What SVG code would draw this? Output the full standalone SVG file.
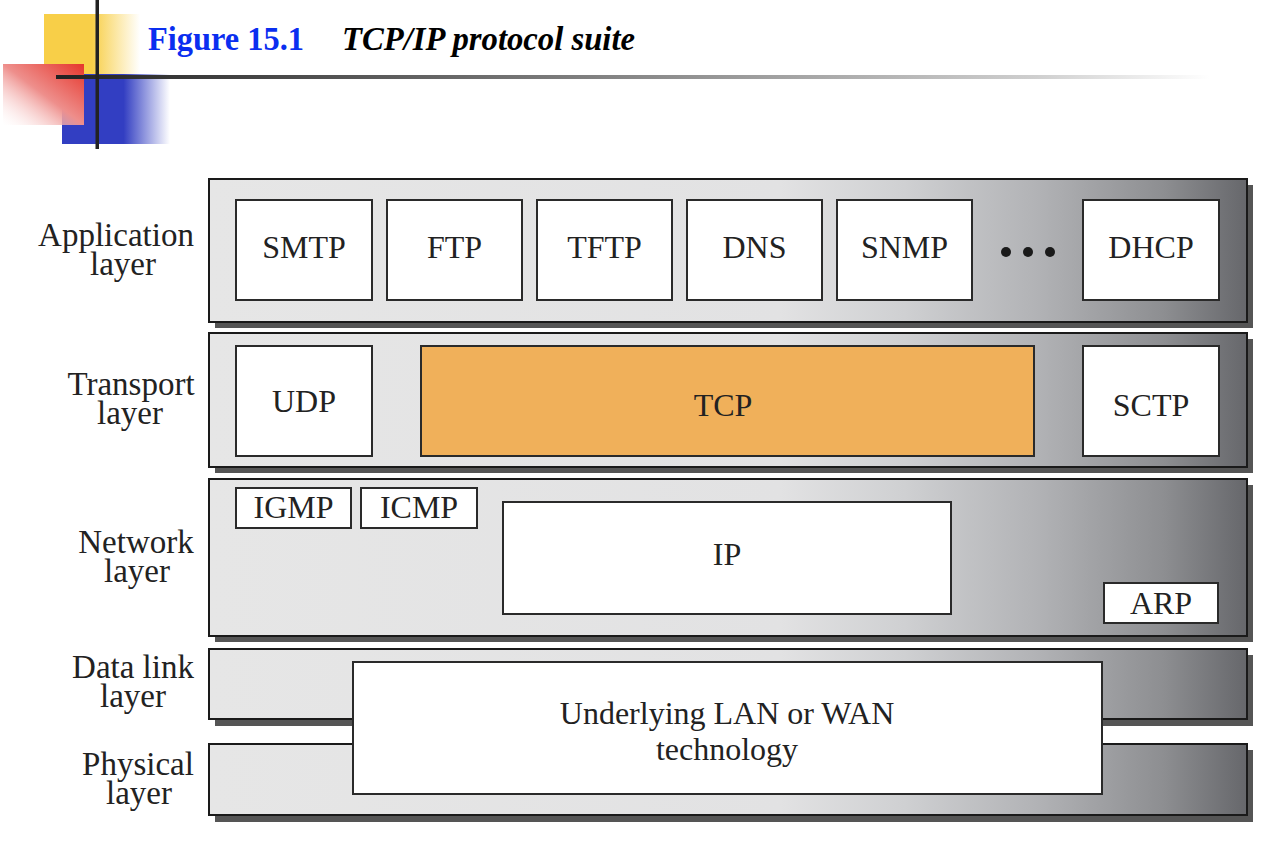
<svg xmlns="http://www.w3.org/2000/svg" width="1282" height="842" viewBox="0 0 1282 842">
<style>
.lbl{font-family:"Liberation Serif","Times New Roman",serif;font-size:33px;fill:#222;text-anchor:middle}
.t{font-family:"Liberation Serif","Times New Roman",serif;font-size:32px;fill:#222;text-anchor:middle}
.layer{fill:url(#lg);stroke:#1a1a1a;stroke-width:2}
.shadow{fill:#555}
.box{fill:#fff;stroke:#2a2a2a;stroke-width:2}
</style>
<defs>
<linearGradient id="lg" x1="0" y1="0" x2="1" y2="0">
<stop offset="0" stop-color="#e6e6e6"/>
<stop offset="0.55" stop-color="#e2e2e3"/>
<stop offset="0.67" stop-color="#cfd0d2"/>
<stop offset="0.8" stop-color="#b1b2b5"/>
<stop offset="0.92" stop-color="#8d8e91"/>
<stop offset="1" stop-color="#66676b"/>
</linearGradient>
<linearGradient id="yel" x1="44" y1="0" x2="140" y2="0" gradientUnits="userSpaceOnUse">
<stop offset="0" stop-color="#f8cf48"/>
<stop offset="0.5" stop-color="#f8cf48"/>
<stop offset="1" stop-color="#f8cf48" stop-opacity="0"/>
</linearGradient>
<linearGradient id="blu" x1="62" y1="0" x2="170" y2="0" gradientUnits="userSpaceOnUse">
<stop offset="0" stop-color="#323ec2"/>
<stop offset="0.57" stop-color="#323ec2"/>
<stop offset="1" stop-color="#323ec2" stop-opacity="0"/>
</linearGradient>
<linearGradient id="red" x1="1" y1="0" x2="0" y2="1">
<stop offset="0" stop-color="#e6352b"/>
<stop offset="0.5" stop-color="#ee8f8c"/>
<stop offset="1" stop-color="#ffffff" stop-opacity="0.2"/>
</linearGradient>
<linearGradient id="hl" x1="56" y1="0" x2="1210" y2="0" gradientUnits="userSpaceOnUse">
<stop offset="0" stop-color="#222"/>
<stop offset="0.5" stop-color="#888"/>
<stop offset="0.85" stop-color="#cfcfcf"/>
<stop offset="1" stop-color="#fff"/>
</linearGradient>
</defs>
<rect width="1282" height="842" fill="#fff"/>
<g id="header">
<rect x="44" y="14" width="96" height="61" fill="url(#yel)"/>
<rect x="62" y="74" width="108" height="70" fill="url(#blu)"/>
<rect x="3" y="64" width="81" height="61" fill="url(#red)"/>
<rect x="56" y="75" width="1154" height="4" fill="url(#hl)"/>
<rect x="95.5" y="0" width="3.5" height="149" fill="#222"/>
<text x="148" y="50" font-family="Liberation Serif,serif" font-weight="bold" font-size="33" fill="#0a2ef0" textLength="156" lengthAdjust="spacingAndGlyphs">Figure 15.1</text>
<text x="342" y="50" font-family="Liberation Serif,serif" font-weight="bold" font-style="italic" font-size="33" fill="#000" textLength="293" lengthAdjust="spacingAndGlyphs">TCP/IP protocol suite</text>
</g>
<g id="labels">
<text class="lbl"><tspan x="116" y="246">Application</tspan><tspan x="123" y="275">layer</tspan></text>
<text class="lbl"><tspan x="131" y="395">Transport</tspan><tspan x="130" y="424">layer</tspan></text>
<text class="lbl"><tspan x="136" y="553">Network</tspan><tspan x="137" y="582">layer</tspan></text>
<text class="lbl"><tspan x="133" y="678">Data link</tspan><tspan x="133" y="707">layer</tspan></text>
<text class="lbl"><tspan x="138" y="775">Physical</tspan><tspan x="139" y="804">layer</tspan></text>
</g>
<g id="application-layer">
<rect class="shadow" x="215" y="185" width="1038" height="143"/>
<rect class="layer" x="209" y="179" width="1038" height="143"/>
</g>
<g id="transport-layer">
<rect class="shadow" x="215" y="339" width="1038" height="134"/>
<rect class="layer" x="209" y="333" width="1038" height="134"/>
</g>
<g id="network-layer">
<rect class="shadow" x="215" y="485" width="1038" height="157"/>
<rect class="layer" x="209" y="479" width="1038" height="157"/>
</g>
<g id="datalink-layer">
<rect class="shadow" x="215" y="655" width="1038" height="71"/>
<rect class="layer" x="209" y="649" width="1038" height="70"/>
</g>
<g id="physical-layer">
<rect class="shadow" x="215" y="750" width="1038" height="72"/>
<rect class="layer" x="209" y="744" width="1038" height="71"/>
</g>
<g id="smtp"><rect class="box" x="236" y="200" width="136" height="100"/><text class="t" x="304" y="258">SMTP</text></g>
<g id="ftp"><rect class="box" x="387" y="200" width="135" height="100"/><text class="t" x="454.5" y="258">FTP</text></g>
<g id="tftp"><rect class="box" x="537" y="200" width="135" height="100"/><text class="t" x="604.5" y="258">TFTP</text></g>
<g id="dns"><rect class="box" x="687" y="200" width="135" height="100"/><text class="t" x="754.5" y="258">DNS</text></g>
<g id="snmp"><rect class="box" x="837" y="200" width="135" height="100"/><text class="t" x="904.5" y="258">SNMP</text></g>
<g id="dots" fill="#1a1a1a"><circle cx="1006" cy="252" r="5"/><circle cx="1028" cy="252" r="5"/><circle cx="1050" cy="252" r="5"/></g>
<g id="dhcp"><rect class="box" x="1083" y="200" width="136" height="100"/><text class="t" x="1151" y="258">DHCP</text></g>
<g id="udp"><rect class="box" x="236" y="346" width="136" height="110"/><text class="t" x="304" y="412">UDP</text></g>
<g id="tcp"><rect x="421" y="346" width="613" height="110" fill="#f0b05a" stroke="#2a2a2a" stroke-width="2"/><text class="t" x="723" y="416">TCP</text></g>
<g id="sctp"><rect class="box" x="1083" y="346" width="136" height="110"/><text class="t" x="1151" y="416">SCTP</text></g>
<g id="igmp"><rect class="box" x="236" y="488" width="115" height="40"/><text class="t" x="293.5" y="518">IGMP</text></g>
<g id="icmp"><rect class="box" x="361" y="488" width="116" height="40"/><text class="t" x="419" y="518">ICMP</text></g>
<g id="ip"><rect class="box" x="503" y="502" width="448" height="112"/><text class="t" x="727" y="565">IP</text></g>
<g id="arp"><rect class="box" x="1104" y="583" width="114" height="40"/><text class="t" x="1161" y="614">ARP</text></g>
<g id="underlying"><rect class="box" x="353" y="662" width="749" height="132"/><text class="t"><tspan x="727" y="724">Underlying LAN or WAN</tspan><tspan x="727" y="760">technology</tspan></text></g>
<g id="connectors"/>
</svg>
